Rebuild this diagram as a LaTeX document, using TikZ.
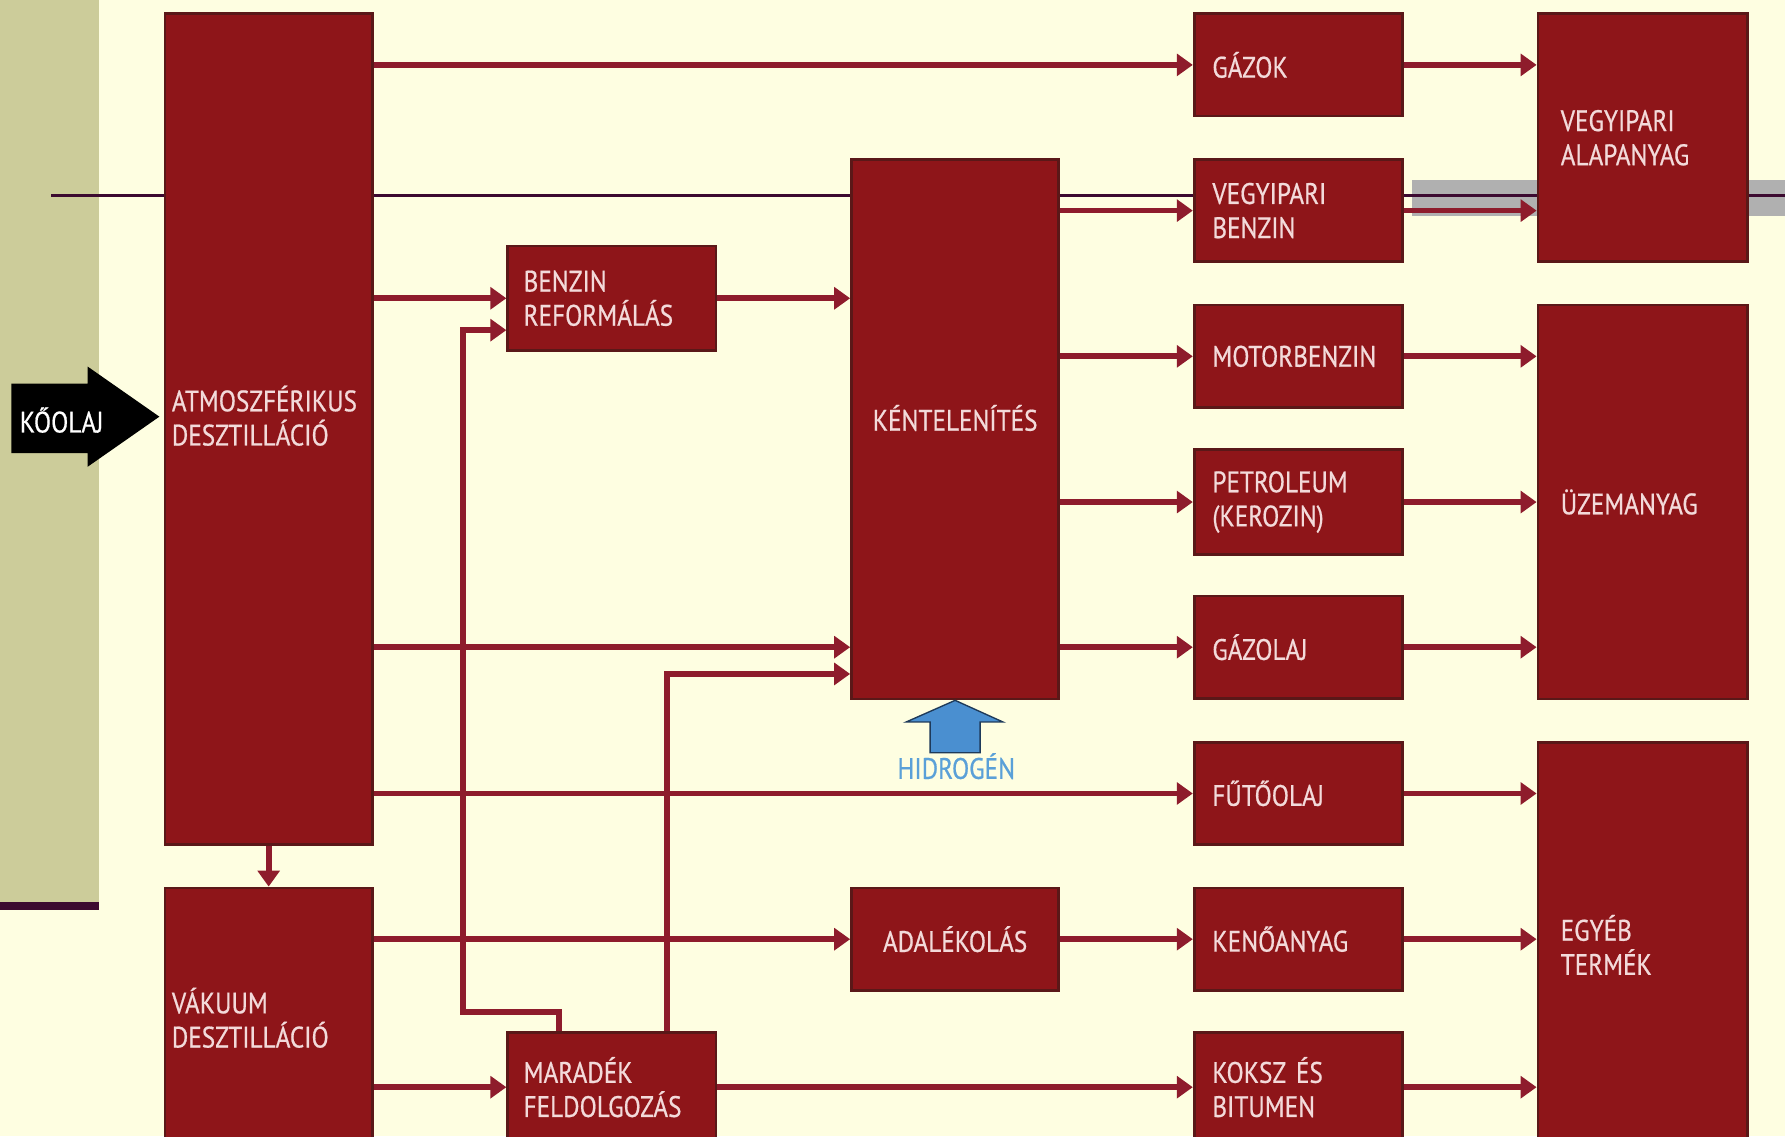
\documentclass[tikz,border=0pt]{standalone}
\usepackage{fontspec}
\newfontfamily\dfont{PT Sans}[FakeStretch=0.85,FakeBold=0.6]
\usetikzlibrary{arrows.meta,calc}
\definecolor{bg}{HTML}{FEFEE1}
\definecolor{tan}{HTML}{CCCC9A}
\definecolor{boxred}{HTML}{8E1519}
\definecolor{boxedge}{HTML}{5A1818}
\definecolor{boxtxt}{HTML}{F3DADA}
\definecolor{flowred}{HTML}{8E1C2C}
\definecolor{darkline}{HTML}{3C0A30}
\definecolor{band}{HTML}{B0B0B0}
\definecolor{hfill}{HTML}{4A8FD0}
\definecolor{hedge}{HTML}{1E3A5A}
\definecolor{htxt}{HTML}{5AA0D8}
\begin{document}
\begin{tikzpicture}[x=0.5pt,y=-0.5pt,
  box/.style={rectangle, fill=boxred, draw=boxedge, line width=1.2pt, text=boxtxt,
    font=\dfont\fontsize{13pt}{15pt}\selectfont, align=left, inner ysep=0pt},
  lcol/.style={box, inner xsep=3pt, text width=85pt},
  mcol/.style={box, inner xsep=7pt, text width=77.5pt},
  ccol/.style={box, inner xsep=0pt, text width=91pt, align=center},
  pcol/.style={box, inner xsep=8pt, text width=75.5pt},
  rcol/.style={box, inner xsep=10pt, text width=72pt},
  flow/.style={draw=flowred, line width=2.5pt, -{Triangle[length=7pt,width=9.5pt]}}
]
\useasboundingbox (0,0) rectangle (1568,998);
\clip (0,0) rectangle (1568,998);
% background
\fill[bg] (0,0) rectangle (1568,998);
\fill[tan] (0,0) rectangle (87,795);
\fill[darkline] (0,792) rectangle (87,799);
\fill[band] (1240,158) rectangle (1568,190);
\draw[darkline, line width=1.3pt] (45,172) -- (1568,172);

% boxes
\node[lcol, minimum height=365pt] (atmos) at (236,377) {ATMOSZFÉRIKUS\\DESZTILLÁCIÓ\\[-3pt]\mbox{}};
\node[lcol, minimum height=114pt] (vakuum) at (236,894) {VÁKUUM\\DESZTILLÁCIÓ};
\node[mcol, minimum height=46pt] (benzref) at (537.5,262) {BENZIN\\REFORMÁLÁS};
\node[mcol, minimum height=48pt] (maradek) at (537.5,955) {MARADÉK\\FELDOLGOZÁS};
\node[ccol, minimum height=237pt] (kent) at (839,377) {KÉNTELENÍTÉS\\[-5pt]\mbox{}};
\node[ccol, minimum height=45pt] (adalek) at (839,825) {ADALÉKOLÁS};

\node[pcol, minimum height=45pt] (gazok) at (1140.5,57) {GÁZOK};
\node[pcol, minimum height=45pt] (vbenz) at (1140.5,185) {VEGYIPARI\\BENZIN};
\node[pcol, minimum height=45pt] (motor) at (1140.5,313) {MOTORBENZIN};
\node[pcol, minimum height=46pt] (petro) at (1140.5,441) {PETROLEUM\\(KEROZIN)};
\node[pcol, minimum height=45pt] (gazolaj) at (1140.5,568.5) {GÁZOLAJ};
\node[pcol, minimum height=45pt] (futo) at (1140.5,697) {FŰTŐOLAJ};
\node[pcol, minimum height=45pt] (keno) at (1140.5,825) {KENŐANYAG};
\node[pcol, minimum height=48pt] (koksz) at (1140.5,955) {KOKSZ ÉS\\BITUMEN};

\node[rcol, minimum height=109pt] (valap) at (1443,121) {VEGYIPARI\\ALAPANYAG};
\node[rcol, minimum height=173pt] (uzem) at (1443,441) {ÜZEMANYAG};
\node[rcol, minimum height=178pt] (egyeb) at (1443,830) {EGYÉB\\TERMÉK};

% crude oil arrow
\fill[black] (10,337) -- (77,337) -- (77,322) -- (140,366) -- (77,410) -- (77,398) -- (10,398) -- cycle;
\node[font=\dfont\fontsize{13pt}{15pt}\selectfont, text=white, anchor=west, inner sep=0pt] (koolaj) at (17,369) {KŐOLAJ};

% hydrogen arrow
\coordinate (htip) at (kent.south);
\filldraw[fill=hfill, draw=hedge, line width=0.6pt] (htip) -- ++(-43,19) -- ++(21,0) -- ++(0,27) -- ++(44,0) -- ++(0,-27) -- ++(20,0) -- cycle;
\node[font=\dfont\fontsize{13pt}{15pt}\selectfont, text=htxt, inner sep=0pt] (hidrogen) at (840,673) {HIDROGÉN};

% connectors from atmospheric distillation
\draw[flow] (atmos.east |- gazok.west) -- (gazok.west);
\draw[flow] (atmos.east |- benzref.west) -- (benzref.west);
\draw[flow] (atmos.east |- gazolaj.west) -- (kent.west |- gazolaj.west);
\draw[flow] (atmos.east |- futo.west) -- (futo.west);
\draw[flow] (atmos.south) -- (vakuum.north);
% vacuum distillation
\draw[flow] (vakuum.east |- adalek.west) -- (adalek.west);
\draw[flow] (vakuum.east |- maradek.west) -- (maradek.west);
% residue processing
\draw[flow] ($(maradek.north west)+(46,0)$) -- ++(0,-17) -| ($(benzref.west)+(-38,28)$) -- ($(benzref.west)+(0,28)$);
\draw[flow] ($(maradek.north west)+(141,0)$) |- ($(kent.west)+(0,215)$);
\draw[flow] (maradek.east) -- (koksz.west);
% reforming
\draw[flow] (benzref.east) -- (benzref.east -| kent.west);
% desulfurization outputs
\draw[flow] (kent.east |- vbenz.west) -- (vbenz.west);
\draw[flow] (kent.east |- motor.west) -- (motor.west);
\draw[flow] (kent.east |- petro.west) -- (petro.west);
\draw[flow] (kent.east |- gazolaj.west) -- (gazolaj.west);
\draw[flow] (adalek.east) -- (keno.west);
% products to groups
\draw[flow] (gazok.east) -- (gazok.east -| valap.west);
\draw[flow] (vbenz.east) -- (vbenz.east -| valap.west);
\draw[flow] (motor.east) -- (motor.east -| uzem.west);
\draw[flow] (petro.east) -- (petro.east -| uzem.west);
\draw[flow] (gazolaj.east) -- (gazolaj.east -| uzem.west);
\draw[flow] (futo.east) -- (futo.east -| egyeb.west);
\draw[flow] (keno.east) -- (keno.east -| egyeb.west);
\draw[flow] (koksz.east) -- (koksz.east -| egyeb.west);
\end{tikzpicture}
\end{document}
